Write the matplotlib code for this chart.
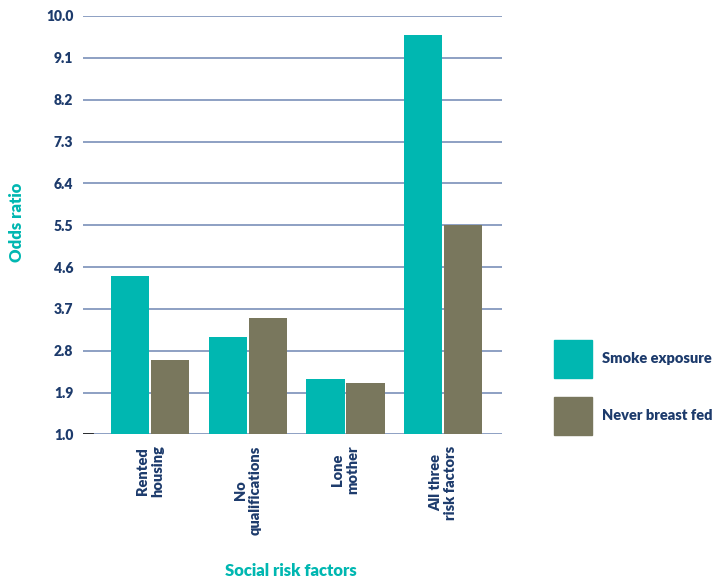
import numpy as np
import matplotlib.pyplot as plt
from matplotlib.patches import Patch

# data
categories = ["Rented\nhousing", "No\nqualifications", "Lone\nmother", "All three\nrisk factors"]
smoke_exposure = [4.4, 3.1, 2.2, 9.6]
never_breast_fed = [2.6, 3.5, 2.1, 5.5]
yticks = [1.0, 1.9, 2.8, 3.7, 4.6, 5.5, 6.4, 7.3, 8.2, 9.1, 10.0]

teal = "#00b7b1"
olive = "#79775d"
navy = "#1d3b6c"
gridc = "#6f86b3"
base = 1.0

plt.rcParams['font.family'] = ['Lato', 'DejaVu Sans']

fig = plt.figure(figsize=(7.15, 5.79), dpi=100)
ax = fig.add_axes([0.116, 0.2496, 0.586, 0.7228])

x = np.arange(len(categories))
w = 0.39
gap = 0.01
h1 = np.array(smoke_exposure) - base
h2 = np.array(never_breast_fed) - base
ax.bar(x - w / 2 - gap, h1, w, bottom=base, color=teal, zorder=3)
ax.bar(x + w / 2 + gap, h2, w, bottom=base, color=olive, zorder=3)

ax.set_ylim(1.0, 10.0)
ax.set_xlim(-0.686, 3.6)
ax.set_yticks(yticks)
ax.set_yticklabels([f"{v:.1f}" for v in yticks])
ax.set_xticks(x)
ax.set_xticklabels(categories, rotation=90, ha="center", va="top", multialignment="center")

for s in ax.spines.values():
    s.set_visible(False)
ax.tick_params(axis="y", length=0, pad=7, labelsize=10, labelcolor=navy)
ax.tick_params(axis="x", length=0, pad=8, labelsize=10.5, labelcolor=navy)
for lab in ax.get_xticklabels() + ax.get_yticklabels():
    lab.set_fontweight("heavy")

ax.yaxis.grid(True, color=gridc, linewidth=1.1, zorder=1)
ax.set_axisbelow(True)
ax.axhline(base, xmin=0, xmax=0.025, color="#222222", linewidth=1.3, zorder=2)

fig.text(17 / 715, 1 - 222 / 579, "Odds ratio", rotation=90, ha="center", va="center",
         color=teal, fontsize=12, fontweight="heavy")
fig.text(291 / 715, 1 - 571 / 579, "Social risk factors", ha="center", va="center",
         color=teal, fontsize=12, fontweight="heavy")

handles = [Patch(color=teal, label="Smoke exposure"), Patch(color=olive, label="Never breast fed")]
leg = fig.legend(handles=handles, loc="upper left", bbox_to_anchor=(554 / 715, 1 - 340 / 579),
                 frameon=False, fontsize=10.5, handlelength=2.61, handleheight=3.64,
                 labelspacing=1.32, handletextpad=0.7, borderaxespad=0, borderpad=0)
for t in leg.get_texts():
    t.set_color(navy)
    t.set_fontweight("heavy")

fig.savefig("out.png", dpi=100)
